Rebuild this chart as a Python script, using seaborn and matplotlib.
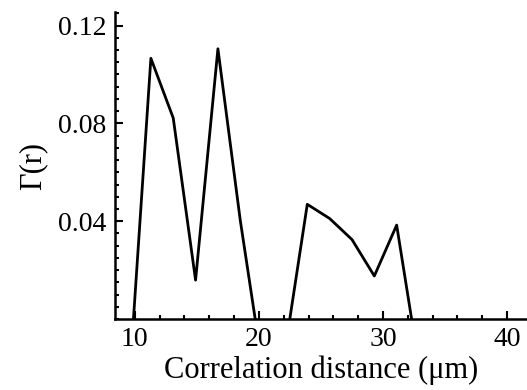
import numpy as np
import pandas as pd
import matplotlib
matplotlib.use("Agg")
import matplotlib.pyplot as plt
from matplotlib.ticker import MultipleLocator
import seaborn as sns

# Correlation function values (negative parts are cut off by the axis at 0)
distance = [9.5, 11.3, 13.1, 14.9, 16.7, 18.5, 20.3, 22.1, 23.9, 25.7, 27.5, 29.3, 31.1, 32.9]
gamma = [-0.030, 0.1066, 0.0822, 0.0159, 0.1105, 0.0404, -0.020, -0.013, 0.0469, 0.0411, 0.0325, 0.0176, 0.0384, -0.019]

df = pd.DataFrame({"r": distance, "gamma": gamma})

sns.set_style("ticks", {"axes.edgecolor": "black", "text.color": "black",
                        "axes.labelcolor": "black", "xtick.color": "black",
                        "ytick.color": "black"})
plt.rcParams["font.family"] = ["Liberation Serif", "DejaVu Serif"]

fig = plt.figure(figsize=(5.27, 3.9), dpi=100)
ax = fig.add_axes([0.218, 0.182, 0.782, 0.787])

sns.lineplot(data=df, x="r", y="gamma", sort=False, color="black", linewidth=2, ax=ax)

ax.set_xlim(8.4, 41.6)
ax.set_ylim(0, 0.1255)
ax.xaxis.set_major_locator(MultipleLocator(10))
ax.xaxis.set_minor_locator(MultipleLocator(2))
ax.yaxis.set_major_locator(MultipleLocator(0.04))
ax.yaxis.set_minor_locator(MultipleLocator(0.005))
ax.set_yticks([0.04, 0.08, 0.12])
ax.set_yticklabels(["0.04", "0.08", "0.12"])

ax.tick_params(which="major", direction="in", length=6, width=1.5, labelsize=20, pad=6,
               colors="black")
ax.tick_params(which="minor", direction="in", length=3, width=1.5, colors="black")
for s in ["left", "bottom"]:
    ax.spines[s].set_linewidth(1.8)
sns.despine(ax=ax)

ax.set_xlabel("Correlation distance (\u03bcm)", fontsize=22, labelpad=2, color="black")
ax.set_ylabel("\u0393(r)", fontsize=22, labelpad=8, color="black")

fig.savefig("out.png", dpi=100)
